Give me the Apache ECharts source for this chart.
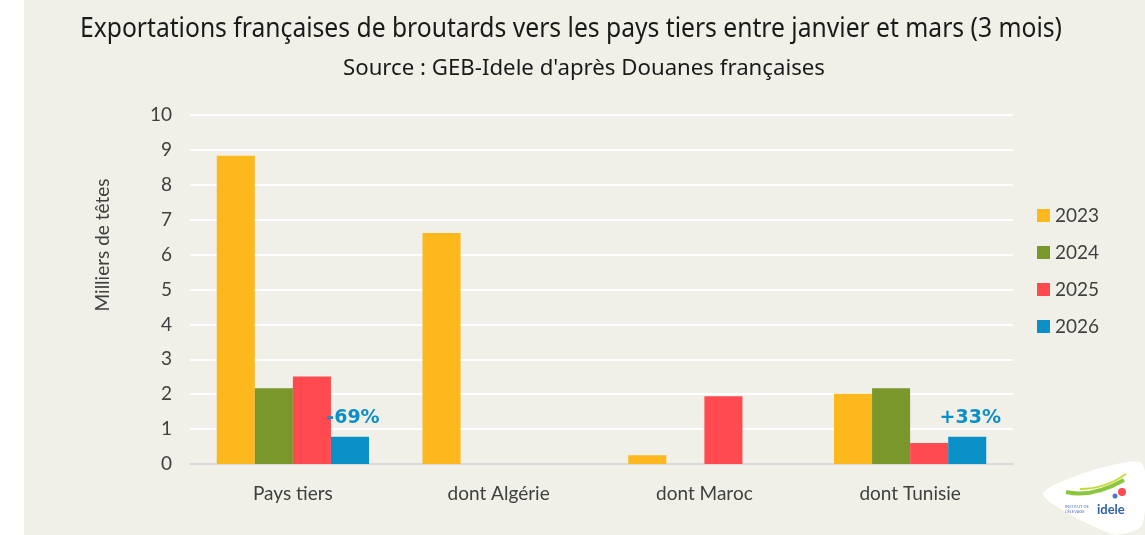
<!DOCTYPE html>
<html>
<head>
<meta charset="utf-8">
<script src="https://cdn.jsdelivr.net/npm/echarts@6/dist/echarts.min.js"></script>
<style>
  html, body { margin: 0; padding: 0; background: #ffffff; }
  #main { width: 1145px; height: 535px; }
</style>
</head>
<body>
<div id="main"></div>
<script>
var chartDom = document.getElementById('main');
var myChart = echarts.init(chartDom);

// catégories et valeurs (milliers de têtes)
var categories = ['Pays tiers', 'dont Algérie', 'dont Maroc', 'dont Tunisie'];
var years = ['2023', '2024', '2025', '2026'];
var v2023 = [8.83, 6.62, 0.25, 2.01];
var v2024 = [2.17, null, null, 2.17];
var v2025 = [2.51, null, 1.94, 0.60];
var v2026 = [0.78, null, null, 0.78];
var evolution = ['-69%', '', '', '+33%']; // étiquettes sur 2026
var yTicks = [0, 1, 2, 3, 4, 5, 6, 7, 8, 9, 10];

var titleText = 'Exportations françaises de broutards vers les pays tiers entre janvier et mars (3 mois)';
var subText = "Source : GEB-Idele d'après Douanes françaises";

var colors = ['#fdb81e', '#7a972c', '#ff4b50', '#0a8fc6'];
var values = [v2023, v2024, v2025, v2026];

function text_scale(txt, font, target) { //échelle horizontale pour une police étroite
    var ctx = document.createElement('canvas').getContext('2d');
    ctx.font = font;
    return target / ctx.measureText(txt).width;
}
var titleScale = text_scale(titleText, '27px "Noto Sans"', 982);
var subScale = text_scale(subText, '22px "Noto Sans"', 482);

var series = [];
for (var i = 0; i < years.length; i++) {
    var s = {
        name: years[i],
        type: 'bar',
        data: values[i],
        barGap: 0,
        barCategoryGap: '26%',
        itemStyle: { color: colors[i] }
    };
    if (i == 3) { //dernière année : évolution
        s.label = {
            show: true,
            position: 'top',
            distance: 9,
            offset: [3, 0],
            color: '#0a8fc6',
            fontFamily: 'DejaVu Sans',
            fontWeight: 'bold',
            fontSize: 19,
            formatter: function(p) { return evolution[p.dataIndex]; }
        };
    }
    series.push(s);
}

var option = {
    backgroundColor: '#ffffff',
    animation: false,
    legend: {
        orient: 'vertical',
        left: 1032,
        top: 201,
        itemWidth: 13,
        itemHeight: 13,
        itemGap: 18,
        icon: 'rect',
        textStyle: { fontFamily: 'Lato', fontSize: 19, color: '#404040' },
        data: years
    },
    grid: { left: 190, right: 132, top: 115, bottom: 71 },
    xAxis: {
        type: 'category',
        data: categories,
        axisTick: { show: false },
        axisLine: { lineStyle: { color: '#d9d9d9', width: 2 } },
        axisLabel: { fontFamily: 'Lato', fontSize: 19, color: '#404040', margin: 20 }
    },
    yAxis: {
        type: 'value',
        min: yTicks[0],
        max: yTicks[yTicks.length - 1],
        interval: 1,
        axisLabel: { fontFamily: 'Lato', fontSize: 19, color: '#404040', margin: 18 },
        splitLine: { lineStyle: { color: '#ffffff', width: 2 } }
    },
    graphic: [
        { type: 'rect', z: -10, shape: { x: 24, y: 0, width: 1121, height: 535 }, style: { fill: '#f0f0e8' } },
        { type: 'text', x: 571, y: 29, scaleX: titleScale, style: {
            text: titleText, fill: '#1a1a1a', fontFamily: 'Noto Sans', fontSize: 27,
            align: 'center', verticalAlign: 'middle' } },
        { type: 'text', x: 584, y: 69, scaleX: subScale, style: {
            text: subText, fill: '#1a1a1a', fontFamily: 'Noto Sans', fontSize: 22,
            align: 'center', verticalAlign: 'middle' } },
        { type: 'text', x: 103, y: 245, rotation: Math.PI / 2, style: {
            text: 'Milliers de têtes', fill: '#404040', fontFamily: 'Lato', fontSize: 19,
            align: 'center', verticalAlign: 'middle' } },
        // logo idele (approximatif)
        { type: 'polygon', shape: { points: [[1043, 493], [1140, 462], [1142, 525], [1112, 534]], smooth: 0.25 },
          style: { fill: '#ffffff' } },
        { type: 'bezierCurve', shape: { x1: 1066, y1: 492, x2: 1124, y2: 480, cpx1: 1092, cpy1: 498 },
          style: { stroke: '#8cc63f', lineWidth: 4, fill: null } },
        { type: 'bezierCurve', shape: { x1: 1080, y1: 489, x2: 1126, y2: 474, cpx1: 1105, cpy1: 489 },
          style: { stroke: '#c8da3a', lineWidth: 2, fill: null } },
        { type: 'text', x: 1097, y: 503, style: { text: 'idele', fill: '#2d5fb0', fontFamily: 'Lato', fontWeight: 'bold', fontSize: 13 } },
        { type: 'text', x: 1065, y: 504, style: { text: 'INSTITUT DE\nL\'ÉLEVAGE', fill: '#5a78b8', fontFamily: 'Lato', fontSize: 4, lineHeight: 5 } },
        { type: 'circle', shape: { cx: 1122, cy: 492, r: 4 }, style: { fill: '#ff4b50' } },
        { type: 'circle', shape: { cx: 1115, cy: 496, r: 2.5 }, style: { fill: '#4a78c8' } }
    ],
    series: series
};

option && myChart.setOption(option);
</script>
</body>
</html>
